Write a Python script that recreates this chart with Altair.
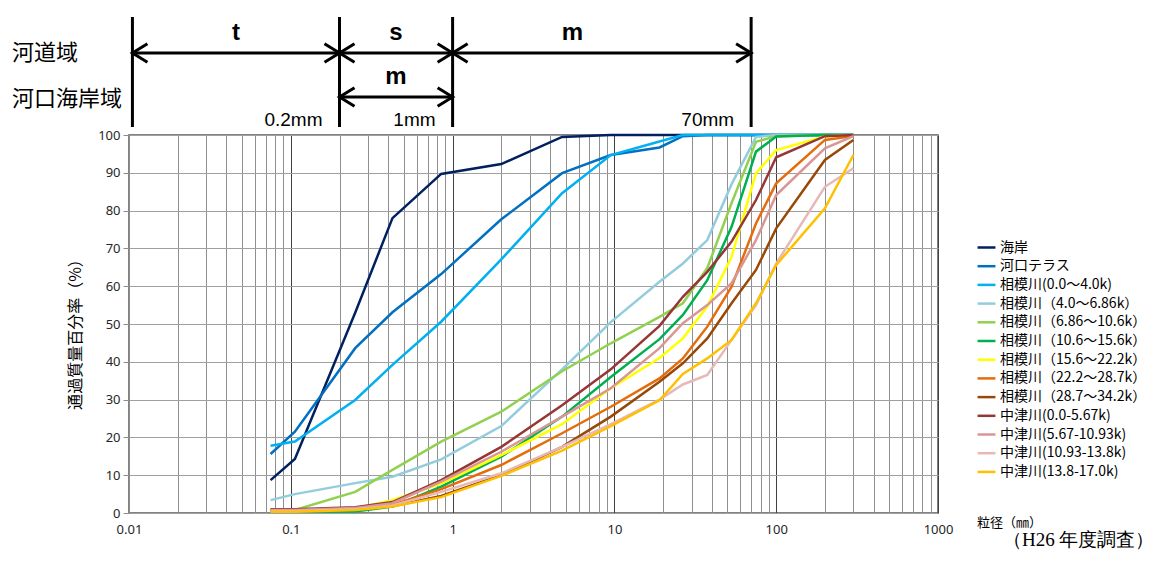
import altair as alt
import pandas as pd

# ---- data -------------------------------------------------------------
sieve_mm = [0.075, 0.106, 0.25, 0.425, 0.85, 2, 4.75, 9.5, 19, 26.5, 37.5, 53, 75, 100, 200, 300]

series_names = [
    "海岸",
    "河口テラス",
    "相模川(0.0〜4.0k)",
    "相模川（4.0〜6.86k）",
    "相模川（6.86〜10.6k）",
    "相模川（10.6〜15.6k）",
    "相模川（15.6〜22.2k）",
    "相模川（22.2〜28.7k）",
    "相模川（28.7〜34.2k）",
    "中津川(0.0-5.67k)",
    "中津川(5.67-10.93k)",
    "中津川(10.93-13.8k)",
    "中津川(13.8-17.0k)",
]
series_colors = [
    "#002060", "#0070C0", "#00B0F0", "#93CDDD", "#92D050", "#00B050", "#FFFF00",
    "#E46C0A", "#984807", "#953735", "#D99694", "#E6B9B8", "#FFC000",
]

kaigan       = [8.7, 14.3, 53.0, 78.0, 89.7, 92.3, 99.5, 100, 100, 100, 100, 100, 100, 100, 100, 100]
kako_terrace = [15.6, 21.5, 43.6, 53.1, 63.2, 77.7, 89.9, 94.7, 96.7, 99.7, 100, 100, 100, 100, 100, 100]
sagami_1     = [17.8, 18.9, 29.9, 39.2, 50.6, 67.1, 84.6, 94.7, 98.3, 100, 100, 100, 100, 100, 100, 100]
sagami_2     = [3.4, 5.0, 7.9, 9.6, 14.2, 23.0, 38.0, 50.5, 61.2, 66.0, 72.2, 87.0, 99.5, 100, 100, 100]
sagami_3     = [0.5, 0.8, 5.6, 11.4, 18.9, 26.8, 37.5, 44.9, 51.9, 55.5, 64.8, 82.0, 98.2, 99.7, 100, 100]
sagami_4     = [0.3, 0.3, 0.4, 1.7, 7.0, 14.9, 25.5, 36.0, 46.0, 52.4, 61.6, 75.7, 95.6, 99.6, 100, 100]
sagami_5     = [0.5, 0.5, 1.2, 3.4, 7.8, 15.3, 23.5, 33.0, 41.0, 46.2, 54.6, 67.8, 89.9, 96.0, 99.6, 100]
sagami_6     = [0.8, 0.8, 1.2, 2.1, 6.3, 12.7, 21.1, 28.1, 35.6, 40.9, 49.3, 59.9, 76.6, 87.2, 98.7, 99.7]
sagami_7     = [0.8, 0.8, 1.0, 1.8, 4.5, 10.0, 17.5, 25.5, 34.7, 39.6, 46.2, 55.5, 64.3, 75.3, 93.4, 98.7]
nakatsu_1    = [1.0, 1.0, 1.5, 2.9, 8.7, 17.5, 28.5, 38.0, 49.5, 57.2, 63.8, 71.8, 82.8, 94.1, 99.7, 100]
nakatsu_2    = [0.8, 0.8, 1.3, 2.6, 8.3, 16.2, 25.5, 33.0, 43.6, 50.2, 55.0, 60.8, 72.2, 84.1, 96.5, 99.7]
nakatsu_3    = [0.5, 0.5, 1.0, 2.0, 5.6, 10.5, 17.5, 23.5, 30.0, 34.0, 36.5, 45.8, 55.0, 66.0, 86.3, 91.2]
nakatsu_4    = [0.3, 0.3, 0.8, 1.7, 4.2, 9.8, 16.5, 23.0, 29.8, 36.8, 40.9, 45.8, 55.5, 65.6, 80.6, 94.7]

series_values = [kaigan, kako_terrace, sagami_1, sagami_2, sagami_3, sagami_4, sagami_5,
                 sagami_6, sagami_7, nakatsu_1, nakatsu_2, nakatsu_3, nakatsu_4]

x_ticks = [m * 10.0 ** e for e in range(-2, 3) for m in range(1, 10)] + [1000]
y_ticks = list(range(0, 101, 10))

# annotation (zone boundaries, labels)
zone_bounds = [0.0105, 0.2, 1, 70]
upper_labels = ["t", "s", "m"]
upper_label_x = [0.0458, 0.447, 5.5]
lower_labels = ["m"]
lower_label_x = [0.447]
mm_labels = ["0.2mm", "1mm", "70mm"]
mm_label_x = [0.2, 1, 70]
upper_arrow_from = [0.0105, 0.2, 1]
upper_arrow_to = [0.2, 1, 70]
lower_arrow_from = [0.2]
lower_arrow_to = [1]

# ---- tables -------------------------------------------------------------
rows = []
for name, vals in zip(series_names, series_values):
    for i, (d, v) in enumerate(zip(sieve_mm, vals)):
        rows.append({"series": name, "size": d, "pct": v, "order": i})
df = pd.DataFrame(rows)

decade_test = "abs(log(datum.value)/LN10 - round(log(datum.value)/LN10)) < 1e-6"

x_scale = alt.Scale(type="log", domain=[0.01, 1000], nice=False)
y_scale = alt.Scale(domain=[0, 100], nice=False)

x_axis = alt.Axis(
    values=x_ticks, format="~g", title=None,
    labelExpr=f"({decade_test}) ? datum.label : ''",
    grid=True,
    gridColor={"condition": {"test": decade_test, "value": "#404040"}, "value": "#8f8f8f"},
    gridWidth=1, ticks=False, domain=False, labelFlush=False, labelOverlap=False,
    labelFont="Noto Sans", labelFontSize=13, labelColor="#262626", labelPadding=10,
)
y_axis = alt.Axis(
    values=y_ticks, grid=True, gridColor="#a0a0a0", gridWidth=1,
    tickColor="#8c8c8c", tickSize=6, domainColor="#8c8c8c",
    labelFont="Noto Sans", labelFontSize=13, labelColor="#262626", labelPadding=3,
    title="通過質量百分率（%）", titleFont="Noto Sans CJK JP", titleFontSize=16,
    titleFontWeight="normal", titleColor="#000000", titleX=-54, titleY=195,
    titleAngle=270, titleAlign="center", titleBaseline="middle",
)


def X(field="size"):
    return alt.X(f"{field}:Q", scale=x_scale, axis=x_axis)


lines = alt.Chart(df).mark_line(strokeWidth=2.5).encode(
    x=X(),
    y=alt.Y("pct:Q", scale=y_scale, axis=y_axis),
    color=alt.Color(
        "series:N",
        scale=alt.Scale(domain=series_names, range=series_colors),
        legend=alt.Legend(
            title=None, orient="none", legendX=847, legendY=102,
            symbolType="stroke", symbolSize=320, symbolStrokeWidth=2.5,
            labelFont="Noto Sans CJK JP", labelFontSize=14, labelColor="#000000",
            labelOffset=3, labelLimit=300, rowPadding=0.7,
        ),
    ),
    order="order:Q",
)

# annotation layers
bounds_df = pd.DataFrame({"size": zone_bounds})
vlines = alt.Chart(bounds_df).mark_rule(color="black", strokeWidth=3).encode(
    x=X(), y=alt.value(-118), y2=alt.value(-8)
)

up_arr = pd.DataFrame({"size": upper_arrow_from, "size2": upper_arrow_to})
lo_arr = pd.DataFrame({"size": lower_arrow_from, "size2": lower_arrow_to})

LEFT_HEAD = "M1,-0.62L0,0L1,0.62"
RIGHT_HEAD = "M-1,-0.62L0,0L-1,0.62"


def arrow_layers(tbl, ypix):
    shaft = alt.Chart(tbl).mark_rule(color="black", strokeWidth=3).encode(
        x=X(), x2="size2:Q", y=alt.value(ypix)
    )
    lh = alt.Chart(tbl).mark_point(shape=LEFT_HEAD, size=900, filled=False, color="black",
                                   strokeWidth=3, opacity=1).encode(x=X(), y=alt.value(ypix))
    rh = alt.Chart(tbl).mark_point(shape=RIGHT_HEAD, size=900, filled=False, color="black",
                                   strokeWidth=3, opacity=1).encode(x=X("size2"), y=alt.value(ypix))
    return [shaft, lh, rh]


up_lab = alt.Chart(pd.DataFrame({"size": upper_label_x, "lab": upper_labels})).mark_text(
    font="Liberation Sans", fontSize=24, fontWeight="bold", color="black", baseline="middle"
).encode(x=X(), y=alt.value(-102), text="lab:N")
lo_lab = alt.Chart(pd.DataFrame({"size": lower_label_x, "lab": lower_labels})).mark_text(
    font="Liberation Sans", fontSize=24, fontWeight="bold", color="black", baseline="middle"
).encode(x=X(), y=alt.value(-58), text="lab:N")
mm_lab = alt.Chart(pd.DataFrame({"size": mm_label_x, "lab": mm_labels})).mark_text(
    font="Liberation Sans", fontSize=19, color="black", align="right", baseline="middle", dx=-17
).encode(x=X(), y=alt.value(-15), text="lab:N")

region1 = alt.Chart(pd.DataFrame({"lab": ["河道域"]})).mark_text(
    font="Noto Sans CJK JP", fontSize=22, fontWeight="normal", color="black", align="left", baseline="middle"
).encode(x=alt.value(-117), y=alt.value(-82), text="lab:N")
region2 = alt.Chart(pd.DataFrame({"lab": ["河口海岸域"]})).mark_text(
    font="Noto Sans CJK JP", fontSize=22, fontWeight="normal", color="black", align="left", baseline="middle"
).encode(x=alt.value(-117), y=alt.value(-36), text="lab:N")

xtitle = alt.Chart(pd.DataFrame({"lab": ["粒径（㎜）"]})).mark_text(
    font="Noto Sans CJK JP", fontSize=13, color="black", align="left", baseline="middle"
).encode(x=alt.value(848), y=alt.value(388), text="lab:N")
survey = alt.Chart(pd.DataFrame({"lab": ["（H26 年度調査）"]})).mark_text(
    font="Liberation Serif", fontSize=19, color="black", align="left", baseline="middle"
).encode(x=alt.value(874), y=alt.value(405), text="lab:N")

layers = [lines, vlines] + arrow_layers(up_arr, -82) + arrow_layers(lo_arr, -38) + [
    up_lab, lo_lab, mm_lab, region1, region2, xtitle, survey]

chart = alt.layer(*layers).properties(
    width=809, height=378,
    padding={"left": 121, "top": 127, "right": 222, "bottom": 40},
    autosize=alt.AutoSizeParams(type="none"),
).configure_view(stroke="#595959", strokeWidth=1.5)

chart.save("out.html", embed_options={"renderer": "svg", "actions": False})
